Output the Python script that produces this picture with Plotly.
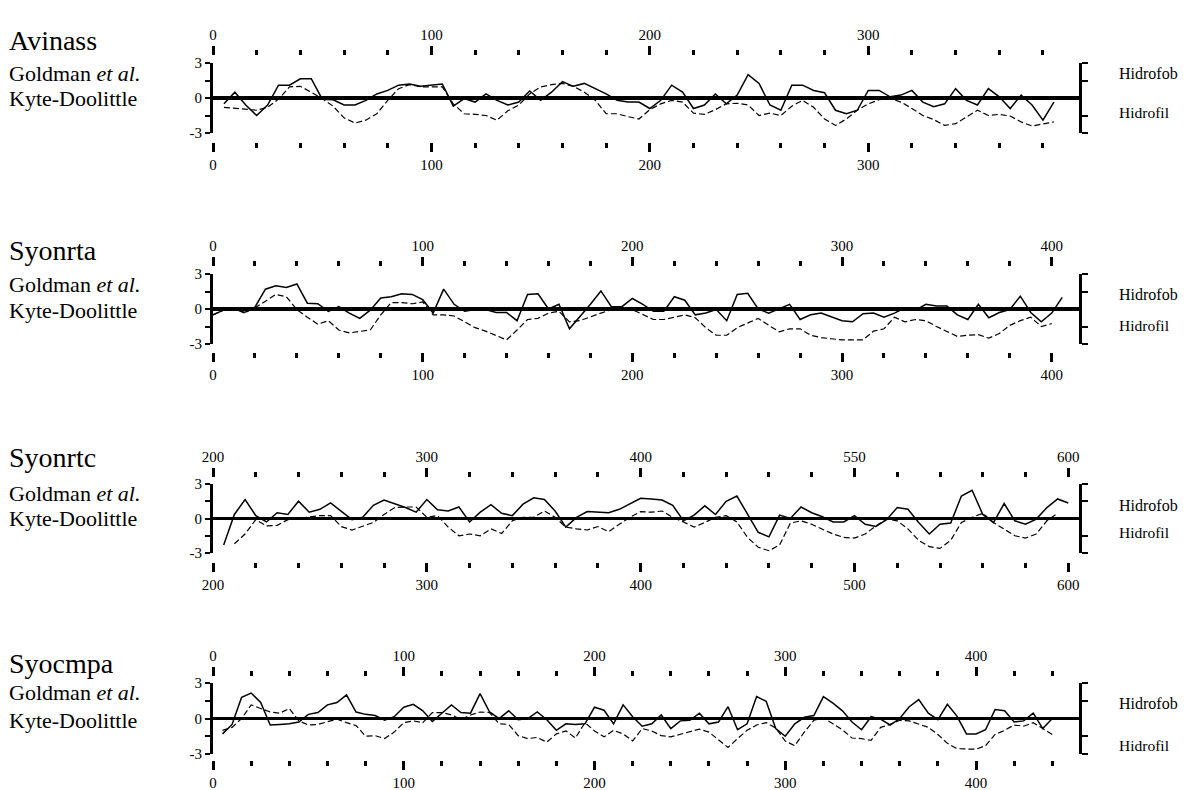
import plotly.graph_objects as go

W, H = 1191, 790
SERIF = "Liberation Serif"

# ---------------- data (hydropathy profiles) ----------------
# Panel 1: Avinass
res_avinass = list(range(5, 390, 5))
goldman_avinass = [
    -0.5, 0.5, -0.6, -1.5, -0.6, 1.1, 1.1, 1.65, 1.65, -0.1,
    -0.15, -0.6, -0.6, -0.2, 0.35, 0.65, 1.1, 1.2, 1.0, 1.1,
    1.2, -0.7, -0.05, -0.35, 0.35, -0.2, -0.6, -0.35, 0.6, -0.2,
    0.5, 1.4, 1.0, 1.25, 0.8, 0.35, -0.2, -0.35, -0.35, -0.9,
    -0.2, 1.1, 0.5, -0.9, -0.6, 0.35, -0.5, 0.25, 2.0, 1.25,
    -0.6, -1.05, 1.1, 1.1, 0.65, 0.45, -1.05, -1.35, -1.05, 0.65,
    0.65, 0.1, 0.25, 0.65, -0.35, -0.75, -0.5, 0.8, -0.2, -0.6,
    0.8, 0.1, -0.9, 0.25, -0.6, -1.9, -0.35]
kd_avinass = [
    -0.8, -0.9, -1.0, -1.05, -0.8, -0.1, 0.95, 1.0, 0.5, -0.05,
    -0.7, -1.7, -2.15, -1.9, -1.35, -0.2, 0.8, 1.15, 0.95, 0.95,
    0.95, -0.5, -1.35, -1.4, -1.5, -1.9, -1.1, -0.6, 0.35, 0.95,
    1.15, 1.25, 1.0, 0.5, -0.2, -1.35, -1.35, -1.6, -1.8, -1.0,
    -0.5, -0.2, -0.35, -1.3, -1.4, -1.0, -0.5, -0.45, -0.6, -1.5,
    -1.3, -1.5, -0.7, -0.2, -0.8, -1.8, -2.35, -1.8, -1.05, -0.5,
    -0.15, -0.05, -0.35, -0.9, -1.5, -1.85, -2.35, -2.2, -1.6, -1.05,
    -1.5, -1.4, -1.55, -2.05, -2.4, -2.2, -2.05]
major_avinass = [0, 100, 200, 300]
top_text_avinass = ["0", "100", "200", "300"]
bot_text_avinass = ["0", "100", "200", "300"]
minor_avinass = list(range(0, 381, 20))

# Panel 2: Syonrta
res_syonrta = list(range(0, 410, 5))
goldman_syonrta = [
    -0.5, -0.1, 0.1, -0.3, 0.15, 1.7, 2.0, 1.85, 2.15, 0.5,
    0.45, -0.2, 0.2, -0.35, -0.8, -0.1, 0.95, 1.05, 1.3, 1.25,
    0.8, -0.35, 1.7, 0.4, -0.2, -0.05, -0.05, -0.3, -0.3, -1.0,
    1.25, 1.3, 0.0, 0.4, -1.7, -0.65, 0.4, 1.55, 0.2, 0.2,
    0.9, 0.4, -0.2, -0.2, 1.05, 0.75, -0.5, -0.35, -0.05, -1.0,
    1.25, 1.35, 0.0, -0.35, 0.0, 0.4, -0.9, -0.5, -0.35, -0.65,
    -1.0, -1.1, -0.4, -0.35, -0.7, -0.35, 0.1, -0.1, 0.4, 0.25,
    0.25, -0.5, -0.9, 0.4, -0.75, -0.3, -0.05, 1.1, -0.3, -1.1,
    -0.35, 1.0]
kd_syonrta = [
    -0.5, -0.1, 0.05, -0.35, 0.1, 0.7, 1.25, 1.05, -0.05, -0.7,
    -1.3, -1.0, -1.8, -2.05, -1.95, -1.8, -0.5, 0.55, 0.55, 0.45,
    0.6, -0.5, -0.5, -0.6, -1.1, -1.6, -1.9, -2.25, -2.65, -1.8,
    -0.9, -0.8, -0.35, -0.2, -1.1, -1.0, -0.65, -0.35, -0.05, 0.1,
    -0.05, -0.5, -0.9, -0.9, -0.7, -0.5, -0.75, -1.6, -2.25, -2.25,
    -1.6, -1.2, -0.8, -1.4, -1.95, -1.7, -1.7, -2.25, -2.45, -2.55,
    -2.65, -2.65, -2.65, -1.9, -1.7, -0.7, -1.1, -0.9, -1.0, -1.5,
    -1.9, -2.35, -2.25, -2.2, -2.5, -2.1, -1.4, -1.0, -0.7, -1.5,
    -1.25, None]
major_syonrta = [0, 100, 200, 300, 400]
top_text_syonrta = ["0", "100", "200", "300", "400"]
bot_text_syonrta = ["0", "100", "200", "300", "400"]
minor_syonrta = list(range(0, 401, 20))

# Panel 3: Syonrtc
res_syonrtc = list(range(205, 605, 5))
goldman_syonrtc = [
    -2.3, 0.35, 1.65, 0.25, -0.3, 0.5, 0.35, 1.5, 0.55, 0.8,
    1.35, 0.65, -0.1, 0.1, 1.15, 1.6, 1.3, 0.95, 0.55, 1.65,
    0.75, 0.65, 1.0, -0.3, 0.55, 1.2, 0.45, 0.25, 1.25, 1.8,
    1.65, 0.65, -0.75, 0.1, 0.6, 0.55, 0.5, 0.8, 1.3, 1.75,
    1.7, 1.6, 1.15, -0.2, 0.3, 1.1, 0.35, 1.5, 1.95, 0.35,
    -1.2, -1.6, 0.3, 0.0, 1.0, 0.5, 0.15, -0.3, -0.3, 0.25,
    -0.5, -0.7, -0.1, 0.95, 0.8, -0.35, -1.35, -0.5, -0.4, 1.95,
    2.45, 0.35, -0.35, 1.3, -0.2, -0.5, -0.05, 0.95, 1.7, 1.35]
kd_syonrtc = [
    None, -2.2, -1.35, -0.1, -0.65, -0.6, -0.1, 0.0, 0.1, 0.25,
    0.25, -0.7, -1.0, -0.7, -0.35, 0.35, 0.95, 1.0, 1.0, 0.1,
    0.25, -0.75, -1.5, -1.35, -1.5, -0.9, -1.3, -0.2, 0.1, 0.1,
    0.65, 0.1, -0.75, -0.9, -1.0, -0.7, -1.15, -0.5, 0.1, 0.6,
    0.55, 0.65, 0.1, -0.3, -0.75, -0.35, 0.1, 0.25, -0.3, -1.65,
    -2.5, -2.8, -2.3, -0.4, -0.2, -0.5, -0.9, -1.35, -1.65, -1.7,
    -1.35, -0.65, -0.05, -0.2, -0.9, -1.9, -2.45, -2.6, -1.9, -0.35,
    0.1, 0.45, -0.35, -0.9, -1.5, -1.7, -1.35, -0.2, 0.45, None]
major_syonrtc = [200, 300, 400, 500, 600]
top_text_syonrtc = ["200", "300", "400", "550", "600"]
bot_text_syonrtc = ["200", "300", "400", "500", "600"]
minor_syonrtc = list(range(200, 601, 20))

# Panel 4: Syocmpa
res_syocmpa = list(range(5, 455, 5))
goldman_syocmpa = [
    -1.3, -0.5, 1.8, 2.15, 1.35, -0.55, -0.5, -0.45, -0.3, 0.35,
    0.5, 1.15, 1.35, 2.0, 0.55, 0.35, 0.25, -0.15, 0.15, 0.95,
    1.2, 0.65, -0.25, 0.45, 1.15, 0.5, 0.45, 2.1, 0.55, 0.0,
    0.65, -0.1, 0.0, 0.55, -0.1, -1.0, -0.45, -0.5, -0.45, 0.95,
    0.7, -0.45, 1.15, 0.15, -0.65, -0.45, 0.3, -0.85, -0.2, -0.15,
    0.45, -0.45, -0.3, 1.0, -0.95, -0.45, 1.85, 1.45, -0.85, -1.5,
    -0.45, 0.1, 0.25, 1.85, 1.3, 0.65, -0.3, -0.95, 0.15, -0.05,
    -0.55, 0.0, 1.0, 1.6, 0.45, -0.1, 1.2, 0.2, -1.3, -1.3,
    -0.95, 0.75, 0.65, -0.3, -0.2, 0.45, -0.85, 0.0, 0.0, 0.0]
kd_syocmpa = [
    -1.0, -0.75, 0.0, 1.15, 0.85, 0.55, 0.45, 0.85, -0.2, -0.55,
    -0.5, -0.3, -0.05, -0.35, -0.6, -1.5, -1.45, -1.7, -1.15, -0.35,
    -0.2, -0.35, 0.5, 0.5, 0.3, -0.1, 0.3, 0.55, 0.5, -0.45,
    -0.5, -1.45, -1.7, -1.6, -2.0, -1.3, -1.05, -1.65, -0.35, -1.05,
    -1.55, -1.0, -1.3, -1.9, -0.85, -1.05, -1.45, -1.55, -1.35, -1.15,
    -0.9, -1.15, -1.8, -2.45, -1.7, -1.0, -0.55, -0.35, -0.8, -1.9,
    -2.3, -1.15, -0.15, 0.05, -0.45, -0.95, -1.65, -1.7, -1.85, -0.75,
    -0.5, -0.15, -0.2, -0.45, -0.75, -1.35, -2.1, -2.55, -2.6, -2.6,
    -2.3, -1.35, -1.0, -0.55, -0.65, -0.35, -0.85, -1.35, None, None]
major_syocmpa = [0, 100, 200, 300, 400]
top_text_syocmpa = ["0", "100", "200", "300", "400"]
bot_text_syocmpa = ["0", "100", "200", "300", "400"]
minor_syocmpa = list(range(0, 441, 20))

y_ticks = [-3, -1.5, 0, 1.5, 3]
y_ticktext = ["-3", "", "0", "", "3"]

# ---------------- layout geometry (pixels) ----------------
panels = [
    dict(name="Avinass", res=res_avinass, g=goldman_avinass, k=kd_avinass,
         xr=[0, 396.5], major=major_avinass, top=top_text_avinass, bot=bot_text_avinass,
         minor=minor_avinass, y_top=63, y_bot=133, t_top=55, t_bot=142,
         title_y=40, g_y=73, k_y=98, hf_y=73, hl_y=113),
    dict(name="Syonrta", res=res_syonrta, g=goldman_syonrta, k=kd_syonrta,
         xr=[0, 413], major=major_syonrta, top=top_text_syonrta, bot=bot_text_syonrta,
         minor=minor_syonrta, y_top=274, y_bot=344, t_top=266, t_bot=352,
         title_y=250, g_y=285, k_y=310, hf_y=294, hl_y=325),
    dict(name="Syonrtc", res=res_syonrtc, g=goldman_syonrtc, k=kd_syonrtc,
         xr=[200, 605], major=major_syonrtc, top=top_text_syonrtc, bot=bot_text_syonrtc,
         minor=minor_syonrtc, y_top=484, y_bot=553, t_top=477, t_bot=562,
         title_y=457, g_y=493, k_y=518, hf_y=505, hl_y=532),
    dict(name="Syocmpa", res=res_syocmpa, g=goldman_syocmpa, k=kd_syocmpa,
         xr=[0, 454], major=major_syocmpa, top=top_text_syocmpa, bot=bot_text_syocmpa,
         minor=minor_syocmpa, y_top=683, y_bot=754, t_top=676, t_bot=760,
         title_y=663, g_y=692, k_y=720, hf_y=703, hl_y=745),
]

X_LEFT, X_RIGHT = 213, 1079

fig = go.Figure()
layout_axes = {}
annotations = []

def ax_key(letter, n):
    return f"{letter}axis" if n == 1 else f"{letter}axis{n}"

def ax_ref(letter, n):
    return letter if n == 1 else f"{letter}{n}"

def txt(text, px, py, size):
    annotations.append(dict(text=text, x=px / W, y=1 - py / H, xref="paper", yref="paper",
                            xanchor="left", yanchor="middle", showarrow=False,
                            font=dict(family=SERIF, size=size, color="black")))

for i, p in enumerate(panels):
    n = i + 1
    xb, yl = ax_ref("x", n), ax_ref("y", n)
    xt, yr = ax_ref("x", n + 4), ax_ref("y", n + 4)

    fig.add_trace(go.Scatter(x=p["res"], y=p["g"], xaxis=xb, yaxis=yl, mode="lines",
                             line=dict(color="black", width=1.5), showlegend=False,
                             hoverinfo="skip", name="Goldman et al."))
    fig.add_trace(go.Scatter(x=p["res"], y=p["k"], xaxis=xb, yaxis=yl, mode="lines",
                             line=dict(color="black", width=1.2, dash="6px,3px"),
                             showlegend=False, hoverinfo="skip", name="Kyte-Doolittle"))
    fig.add_trace(go.Scatter(x=[], y=[], xaxis=xt, yaxis=yl, showlegend=False, hoverinfo="skip"))
    fig.add_trace(go.Scatter(x=[], y=[], xaxis=xb, yaxis=yr, showlegend=False, hoverinfo="skip"))

    common_x = dict(range=p["xr"], autorange=False, showgrid=False, zeroline=False,
                    showline=False, domain=[X_LEFT / W, X_RIGHT / W], automargin=False,
                    tickmode="array", tickvals=p["major"], ticks="outside",
                    ticklen=9, tickwidth=3, tickcolor="black",
                    tickfont=dict(family=SERIF, size=15, color="black"),
                    minor=dict(tickmode="array", tickvals=p["minor"], ticks="outside",
                               ticklen=5, tickwidth=3, tickcolor="black", showgrid=False),
                    anchor="free", fixedrange=True)
    layout_axes[ax_key("x", n)] = dict(common_x, ticktext=p["bot"],
                                       position=1 - p["t_bot"] / H, side="bottom")
    layout_axes[ax_key("x", n + 4)] = dict(common_x, ticktext=p["top"],
                                           position=1 - p["t_top"] / H, side="top",
                                           overlaying=xb)
    ydom = [1 - p["y_bot"] / H, 1 - p["y_top"] / H]
    layout_axes[ax_key("y", n)] = dict(
        domain=ydom, range=[-3, 3], autorange=False, anchor=xb, side="left",
        automargin=False,
        showgrid=False, zeroline=True, zerolinecolor="black", zerolinewidth=3.5,
        showline=True, linecolor="black", linewidth=3,
        tickmode="array", tickvals=y_ticks, ticktext=y_ticktext,
        ticks="outside", ticklen=5, tickwidth=2, tickcolor="black",
        tickfont=dict(family=SERIF, size=15, color="black"), fixedrange=True)
    layout_axes[ax_key("y", n + 4)] = dict(
        range=[-3, 3], autorange=False, anchor=xb, overlaying=yl, side="right",
        automargin=False,
        showgrid=False, zeroline=False, showline=True, linecolor="black", linewidth=3,
        tickmode="array", tickvals=[-3, -1.5, 1.5, 3], ticks="outside", ticklen=6,
        tickwidth=2, tickcolor="black", showticklabels=False, fixedrange=True)

    txt(p["name"], 7, p["title_y"], 28)
    txt("Goldman <i>et al.</i>", 7, p["g_y"], 22)
    txt("Kyte-Doolittle", 7, p["k_y"], 22)
    txt("Hidrofob", 1117, p["hf_y"], 16)
    txt("Hidrofil", 1117, p["hl_y"], 15.5)

fig.update_layout(
    width=W, height=H, margin=dict(l=0, r=0, t=0, b=0, autoexpand=False),
    paper_bgcolor="white", plot_bgcolor="white", showlegend=False,
    font=dict(family=SERIF, color="black"),
    annotations=annotations, **layout_axes)

fig.write_html("out.html",
               config={"displayModeBar": False, "staticPlot": True},
               post_script="document.body.style.margin='0px';document.body.style.overflow='hidden';")
